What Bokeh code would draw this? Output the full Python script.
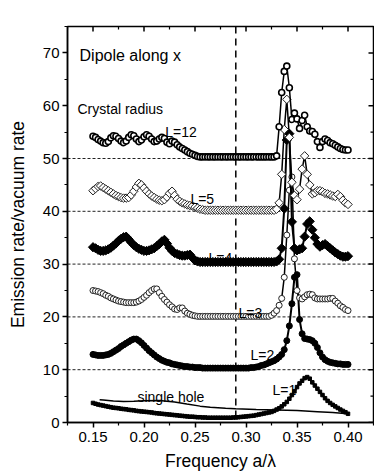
import numpy as np
from bokeh.plotting import figure
from bokeh.models import Span, Label, FixedTicker, Range1d, ColumnDataSource
from bokeh.embed import file_html
from bokeh.resources import INLINE

# ---------------- data ----------------
freq = np.round(0.15 + 0.0025 * np.arange(101), 4)   # sampling grid a/lambda

L12 = [54.2, 54.0, 53.6, 53.3, 53.0, 52.9, 53.2, 53.9, 54.3, 54.2,
       53.8, 53.3, 53.0, 53.3, 54.0, 54.5, 54.3, 53.7, 53.2, 53.5,
       54.1, 54.5, 54.2, 53.7, 53.2, 53.3, 53.7, 54.0, 53.8, 53.1,
       52.8, 53.3, 53.1, 52.6, 52.2, 51.9, 51.6, 51.3, 51.0, 50.8,
       50.6, 50.4,
       50.3, 50.3, 50.3, 50.3, 50.3, 50.3, 50.3, 50.3, 50.3, 50.3,
       50.3, 50.3, 50.3, 50.3, 50.3, 50.3, 50.3, 50.3, 50.3, 50.3,
       50.3, 50.3, 50.3, 50.3, 50.3, 50.3, 50.3, 50.3, 50.3, 50.3,
       50.5, 56.0, 62.5, 66.5, 67.5, 63.4, 57.4, 58.6, 57.5, 55.7,
       57.2, 58.2, 56.0, 55.2, 55.1, 54.6, 53.2, 52.1, 53.2, 53.7,
       53.4, 53.0, 52.8, 52.5, 52.2, 51.9, 51.7, 51.6, 51.6]

L5 = [43.9, 44.3, 44.7, 44.8, 44.5, 44.2, 43.9, 43.6, 43.3, 43.0,
      42.8, 42.6, 42.5, 42.5, 42.6, 43.1, 43.8, 44.6, 45.3, 45.0,
      44.4, 43.8, 43.3, 42.9, 42.6, 42.3, 42.1, 42.0, 42.2, 42.7,
      43.4, 43.8, 43.0, 42.3, 41.9, 41.6, 41.4, 41.2, 41.1, 41.0,
      40.8, 40.6, 40.4, 40.3,
      40.2, 40.2, 40.2, 40.2, 40.2, 40.2, 40.2, 40.2, 40.2, 40.2,
      40.2, 40.2, 40.2, 40.2, 40.2, 40.2, 40.2, 40.2, 40.2, 40.2,
      40.2, 40.2, 40.2, 40.2, 40.2, 40.2, 40.2, 40.2,
      40.4, 41.6, 47.0, 55.5, 61.2, 54.0, 45.5, 43.0, 42.2, 44.2,
      48.0, 50.5, 47.0, 45.0, 43.3, 43.5, 43.9, 43.9, 43.7, 43.4,
      43.3, 43.1, 42.9, 42.8, 43.2, 42.8, 42.1, 41.6, 41.3]

L4 = [33.2, 33.0, 32.7, 32.5, 32.5, 32.6, 32.8, 33.1, 33.5, 33.9,
      34.4, 34.8, 35.1, 35.2, 34.7, 34.1, 33.6, 33.2, 32.9, 32.7,
      32.5, 32.5, 32.6, 32.8, 33.0, 33.4, 33.8, 34.3, 34.6, 33.9,
      33.1, 32.5, 32.1, 31.9, 31.7, 31.6, 31.6, 31.7, 31.8, 31.2,
      30.7, 30.5,
      30.4, 30.4, 30.4, 30.4, 30.4, 30.4, 30.4, 30.4, 30.4, 30.4,
      30.4, 30.4, 30.4, 30.4, 30.4, 30.4, 30.4, 30.4, 30.4, 30.4,
      30.4, 30.4, 30.4, 30.4, 30.4, 30.4, 30.4, 30.4, 30.4, 30.4,
      30.5, 30.9, 33.0, 40.5, 53.5, 54.7, 38.0, 33.0, 32.6, 32.8,
      33.0, 35.2, 37.6, 38.1, 36.5, 35.0, 33.8, 33.3, 33.6, 33.8,
      33.4, 33.0, 32.6, 32.2, 31.9, 31.6, 31.4, 31.4, 31.5]

L3 = [25.0, 24.9, 24.8, 24.6, 24.4, 24.1, 23.9, 23.6, 23.4, 23.2,
      23.0, 22.9, 22.8, 22.7, 22.7, 22.7, 22.7, 22.8, 23.0, 23.3,
      23.7, 24.1, 24.6, 25.0, 25.3, 25.3, 24.6, 23.9, 23.3, 22.8,
      22.3, 21.9, 21.5, 21.4, 21.7, 21.7, 21.1, 20.7, 20.5, 20.3,
      20.2,
      20.1, 20.1, 20.1, 20.1, 20.1, 20.1, 20.1, 20.1, 20.1, 20.1,
      20.1, 20.1, 20.1, 20.1, 20.1, 20.1, 20.1, 20.1, 20.1, 20.1,
      20.1, 20.1, 20.1, 20.1, 20.1, 20.1, 20.1, 20.1, 20.1,
      20.3, 20.7, 21.2, 22.2, 23.5, 27.5, 35.5, 44.0, 46.5, 31.0,
      25.0, 23.6, 23.4, 23.8, 24.2, 24.3, 24.2, 23.6, 23.4, 23.4,
      23.4, 23.4, 23.4, 23.5, 23.5, 23.0, 22.6, 22.1, 21.8, 21.4,
      21.2]

L2 = [12.9, 12.8, 12.7, 12.7, 12.7, 12.8, 12.9, 13.1, 13.4, 13.7,
      14.0, 14.4, 14.7, 15.0, 15.3, 15.6, 15.8, 15.8, 15.5, 15.1,
      14.6, 14.1, 13.6, 13.2, 12.8, 12.4, 12.1, 11.8, 11.6, 11.4,
      11.3, 11.1, 11.0, 10.9, 10.8, 10.7, 10.6, 10.6, 10.5, 10.5,
      10.4, 10.4, 10.4, 10.3,
      10.3, 10.3, 10.3, 10.3, 10.3, 10.3, 10.3, 10.3, 10.3, 10.3,
      10.3, 10.3, 10.3, 10.3, 10.3, 10.3, 10.3, 10.3,
      10.4, 10.4, 10.5, 10.6, 10.8, 10.9, 11.1, 11.3, 11.5, 11.7,
      12.0, 12.4, 12.9, 13.8, 15.5, 18.3, 22.5, 27.5, 28.0, 19.5,
      16.8, 15.9, 15.8, 15.7, 15.5, 15.0, 14.2, 13.2, 12.4, 11.9,
      11.6, 11.4, 11.3, 11.2, 11.1, 11.1, 11.0, 11.0, 11.0]

L1 = [3.7, 3.55, 3.4, 3.3, 3.2, 3.1, 3.0, 2.9, 2.8, 2.75,
      2.7, 2.6, 2.55, 2.5, 2.4, 2.35, 2.3, 2.2, 2.15, 2.1,
      2.05, 2.0, 1.95, 1.9, 1.8, 1.75, 1.7, 1.65, 1.6, 1.55,
      1.5, 1.45, 1.4, 1.35, 1.3, 1.25, 1.2, 1.15, 1.1, 1.1,
      1.05, 1.0, 1.0, 0.95, 0.95, 0.9, 0.9, 0.9, 0.9, 0.9,
      0.9, 0.9, 0.9, 0.9, 0.9, 0.95, 0.95, 1.0, 1.05, 1.1,
      1.15, 1.2, 1.25, 1.3, 1.4, 1.5, 1.6, 1.7, 1.8, 1.9,
      2.0, 2.2, 2.45, 2.7, 3.05, 3.45, 3.9, 4.5, 5.2, 5.9,
      6.7, 7.4, 7.9, 8.4, 8.6, 8.3, 7.6, 7.0, 6.4, 5.8,
      5.2, 4.6, 4.1, 3.7, 3.35, 3.05, 2.75, 2.45, 2.2, 1.95,
      1.65]

single_f = [0.1565, 0.160, 0.170, 0.180, 0.190, 0.200, 0.215, 0.230, 0.242, 0.255,
            0.265, 0.280, 0.290, 0.310, 0.330, 0.350, 0.370, 0.385, 0.400]
single_v = [4.3, 4.25, 4.05, 3.98, 4.02, 4.1, 4.15, 3.9, 3.5, 3.1,
            2.88, 2.72, 2.62, 2.45, 2.35, 2.25, 2.05, 1.9, 1.65]

baselines = [10, 20, 30, 40, 50]
crystal_edge = 0.29

X_MIN, X_MAX, Y_MIN, Y_MAX = 0.125, 0.425, 0, 75
x_ticks = [0.15, 0.20, 0.25, 0.30, 0.35, 0.40]
x_tick_labels = ["0.15", "0.20", "0.25", "0.30", "0.35", "0.40"]
x_minor = [0.125, 0.175, 0.225, 0.275, 0.325, 0.375, 0.425]
y_ticks = [0, 10, 20, 30, 40, 50, 60, 70]
y_minor = [5, 15, 25, 35, 45, 55, 65, 75]

for arr in (L12, L5, L4, L3, L2, L1):
    assert len(arr) == len(freq), len(arr)

# ---------------- figure ----------------
FONT = "Liberation Sans"
W, H = 374, 474
B_LEFT, B_TOP, B_RIGHT, B_BOTTOM = 67, 26, 1, 52
p = figure(width=W, height=H, x_range=Range1d(X_MIN, X_MAX), y_range=Range1d(Y_MIN, Y_MAX),
           output_backend="svg", toolbar_location=None,
           min_border_left=B_LEFT, min_border_top=B_TOP, min_border_right=B_RIGHT,
           min_border_bottom=B_BOTTOM)
p.xgrid.visible = False
p.ygrid.visible = False
p.outline_line_color = "black"
p.outline_line_width = 1.5
p.background_fill_color = "white"
p.border_fill_color = "white"

xt = FixedTicker(ticks=x_ticks, minor_ticks=x_minor)
yt = FixedTicker(ticks=y_ticks, minor_ticks=y_minor)

ax = p.xaxis[0]
ax.ticker = xt
ax.major_label_overrides = {t: s for t, s in zip(x_ticks, x_tick_labels)}
ax.axis_label = "Frequency a/\u03bb"
ay = p.yaxis[0]
ay.ticker = yt
ay.axis_label = "Emission rate/vacuum rate"
for a in (ax, ay):
    a.axis_line_width = 1.5
    a.major_tick_line_width = 1.5
    a.minor_tick_line_width = 1.2
    a.major_tick_out = 5
    a.major_tick_in = 0
    a.minor_tick_out = 3
    a.minor_tick_in = 0
    a.major_label_text_font = FONT
    a.major_label_text_font_size = "15px"
    a.major_label_text_color = "black"
    a.axis_label_text_font = FONT
    a.axis_label_text_font_size = "17.5px"
    a.axis_label_text_font_style = "normal"
    a.axis_label_text_color = "black"
ax.major_label_standoff = 4
ax.axis_label_standoff = 6
ay.major_label_standoff = 3
ay.axis_label_standoff = 12

# mirrored inward ticks on the top and right edges (from the tick arrays)
fw = W - B_LEFT - B_RIGHT
fh = H - B_TOP - B_BOTTOM
px_x = (X_MAX - X_MIN) / fw
px_y = (Y_MAX - Y_MIN) / fh
p.segment(x0=x_ticks, y0=[Y_MAX] * len(x_ticks), x1=x_ticks, y1=[Y_MAX - 5 * px_y] * len(x_ticks),
          line_color="black", line_width=1.5)
p.segment(x0=x_minor, y0=[Y_MAX] * len(x_minor), x1=x_minor, y1=[Y_MAX - 3 * px_y] * len(x_minor),
          line_color="black", line_width=1.2)
p.segment(x0=[X_MAX] * len(y_ticks), y0=y_ticks, x1=[X_MAX - 5 * px_x] * len(y_ticks), y1=y_ticks,
          line_color="black", line_width=1.5)
p.segment(x0=[X_MAX] * len(y_minor), y0=y_minor, x1=[X_MAX - 3 * px_x] * len(y_minor), y1=y_minor,
          line_color="black", line_width=1.2)

for b in baselines:
    p.add_layout(Span(location=b, dimension="width", line_color="#222222",
                      line_width=1, line_dash="3 2", level="underlay"))
p.add_layout(Span(location=crystal_edge, dimension="height", line_color="black",
                  line_width=1.5, line_dash="7 5", level="underlay"))

src = ColumnDataSource(dict(f=freq, L1=L1, L2=L2, L3=L3, L4=L4, L5=L5, L12=L12))
ROT = np.pi / 4

# single hole
p.line(single_f, single_v, line_color="black", line_width=1.5)
# L=1
p.line("f", "L1", source=src, line_color="black", line_width=2.2)
p.scatter("f", "L1", source=src, marker="square", size=3.5, fill_color="black", line_color="black")
# L=2
p.line("f", "L2", source=src, line_color="black", line_width=2)
p.scatter("f", "L2", source=src, marker="circle", size=6, fill_color="black", line_color="black")
# L=3
p.line("f", "L3", source=src, line_color="black", line_width=1.5)
p.scatter("f", "L3", source=src, marker="circle", size=6, fill_color="white", line_color="#222222", line_width=1)
# L=4
p.line("f", "L4", source=src, line_color="black", line_width=2)
p.scatter("f", "L4", source=src, marker="square", angle=ROT, size=6.5, fill_color="black", line_color="black")
# L=5
p.line("f", "L5", source=src, line_color="black", line_width=1.5)
p.scatter("f", "L5", source=src, marker="square", angle=ROT, size=6, fill_color="white", line_color="#222222", line_width=1)
# L=12
p.line("f", "L12", source=src, line_color="black", line_width=1.5)
p.scatter("f", "L12", source=src, marker="circle", size=6, fill_color="white", line_color="black", line_width=1.6)

labels = [
    (0.1368, 69.6, "Dipole along x", "16px"),
    (0.1348, 59.35, "Crystal radius", "14px"),
    (0.2209, 55.05, "L=12", "14px"),
    (0.2455, 42.4, "L=5", "14px"),
    (0.2632, 31.2, "L=4", "14px"),
    (0.2926, 20.8, "L=3", "14px"),
    (0.3044, 12.7, "L=2", "14px"),
    (0.3260, 6.2, "L=1", "14px"),
    (0.1936, 4.9, "single hole", "14px"),
]
for x, y, t, fs in labels:
    p.add_layout(Label(x=x, y=y, text=t, text_font=FONT, text_font_size=fs,
                       text_color="black", text_baseline="alphabetic", text_align="left"))

open("out.html", "w").write(file_html(p, INLINE))
